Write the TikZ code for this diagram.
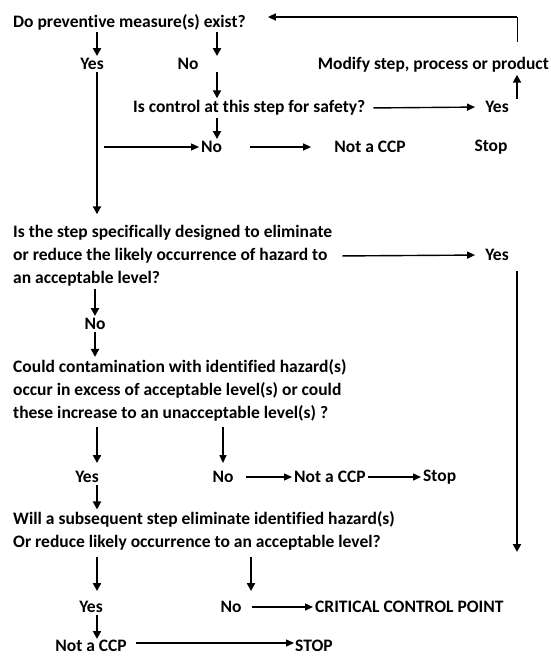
\documentclass[tikz,border=0pt]{standalone}
\usepackage{fontspec}
\setmainfont{Carlito}[Ligatures=NoCommon]
\usetikzlibrary{positioning,arrows.meta}

\begin{document}
\begin{tikzpicture}[x=1pt,y=-1pt,
  every node/.style={font=\bfseries\fontsize{17.5}{23}\selectfont,inner sep=2pt},
  txt/.style={align=left,anchor=west},
  down/.style={-{Triangle[length=8pt,width=8pt]},line width=2.2pt},
  thindown/.style={-{Triangle[length=8pt,width=7pt]},line width=1.3pt},
  across/.style={-{Triangle[length=8pt,width=7pt]},line width=1.4pt}]

  \useasboundingbox (0,0) rectangle (551,657);

  % columns of the arrows
  \coordinate (c1) at (97,0);
  \coordinate (c2) at (217,0);
  \coordinate (c3) at (517,0);
  \coordinate (c5) at (251,0);

  \node[txt] (q1) at (11,22) {Do preventive measure(s) exist?};
  \node (yes1) at (92,64) {Yes};
  \node (no1) at (188,64) {No};
  \node[anchor=east] (modify) at (551,65) {Modify step, process or product};
  \node[txt] (q2) at (131,108) {Is control at this step for safety?};
  \node (yes2) at (497,107) {Yes};
  \node[anchor=west] (no2) at (199,147) {No};
  \node (notccp1) at (370,147) {Not a CCP};
  \node (stop1) at (491,147) {Stop};

  \node[txt] (q3) at (11,256) {Is the step specifically designed to eliminate\\or reduce the likely occurrence of hazard to\\an acceptable level?};
  \node (yes3) at (497,255) {Yes};
  \node (no3) at (95,324) {No};

  \node[txt] (q4) at (11,390) {Could contamination with identified hazard(s)\\occur in excess of acceptable level(s) or could\\these increase to an unacceptable level(s) ?};
  \node (yes4) at (87,477) {Yes};
  \node (no4) at (223,477) {No};
  \node[anchor=west] (notccp2) at (292,477) {Not a CCP};
  \node[anchor=west] (stop2) at (421,477) {Stop};

  \node[txt] (q5) at (11,531) {Will a subsequent step eliminate identified hazard(s)\\Or reduce likely occurrence to an acceptable level?};
  \node (yes5) at (91,607) {Yes};
  \node (no5) at (231,607) {No};
  \node[anchor=west] (ccp) at (313,607) {CRITICAL CONTROL POINT};
  \node[inner sep=1pt] (notccp3) at (91,646) {Not a CCP};
  \node[anchor=west,inner sep=1pt] (stop3) at (294,646) {STOP};

  \coordinate (fb) at (517,42);
  \coordinate (llend) at (517,552);

  % first question
  \draw[down] (c1 |- q1.south) -- (c1 |- yes1.north);
  \draw[down] (c2 |- q1.south) -- (c2 |- no1.north);
  \draw[down] (c2 |- no1.south) -- (c2 |- q2.north);
  \draw[across,shorten <=6pt,shorten >=8pt] (q2.east) -- (yes2.west);
  \draw[down] (c3 |- yes2.north) -- (c3 |- modify.south);
  \draw[line width=1pt] (fb) -- (c3 |- 0,17);
  \draw[across,shorten >=20pt] (c3 |- 0,17) -- ([yshift=5pt]q1.east);
  \draw[down] (c2 |- q2.south) -- (c2 |- no2.north);
  \draw[across,shorten <=7pt] (c1 |- no2) -- (no2.west);
  \draw[across,shorten <=26pt,shorten >=21pt] (no2.east) -- (notccp1.west);
  \draw[down,shorten >=9pt] (c1 |- yes1.south) -- (c1 |- q3.north);

  % second question
  \draw[across,shorten <=8pt,shorten >=8pt] (q3.east) -- (yes3.west);
  \draw[down,shorten <=8pt] (c3 |- yes3.south) -- (llend);
  \draw[down] (no3 |- q3.south) -- (no3.north);
  \draw[down] (no3.south) -- (no3 |- q4.north);

  % third question
  \draw[down,shorten <=4pt,shorten >=6pt] (c1 |- q4.south) -- (c1 |- yes4.north);
  \draw[thindown,shorten <=4pt,shorten >=6pt] (no4 |- q4.south) -- (no4.north);
  \draw[across,shorten <=10pt] (no4.east) -- (notccp2.west);
  \draw[across] (notccp2.east) -- (stop2.west);
  \draw[down] (c1 |- yes4.south) -- (c1 |- q5.north);

  % fourth question
  \draw[down,shorten <=4pt,shorten >=8pt] (c1 |- q5.south) -- (c1 |- yes5.north);
  \draw[down,shorten <=4pt,shorten >=8pt] (c5 |- q5.south) -- (c5 |- no5.north);
  \draw[across,shorten <=8pt] (no5.east) -- (ccp.west);
  \draw[down] (c1 |- yes5.south) -- (c1 |- notccp3.north);
  \draw[across,shorten <=8pt] ([yshift=3pt]notccp3.east) -- ([yshift=3pt]stop3.west);

\end{tikzpicture}
\end{document}
